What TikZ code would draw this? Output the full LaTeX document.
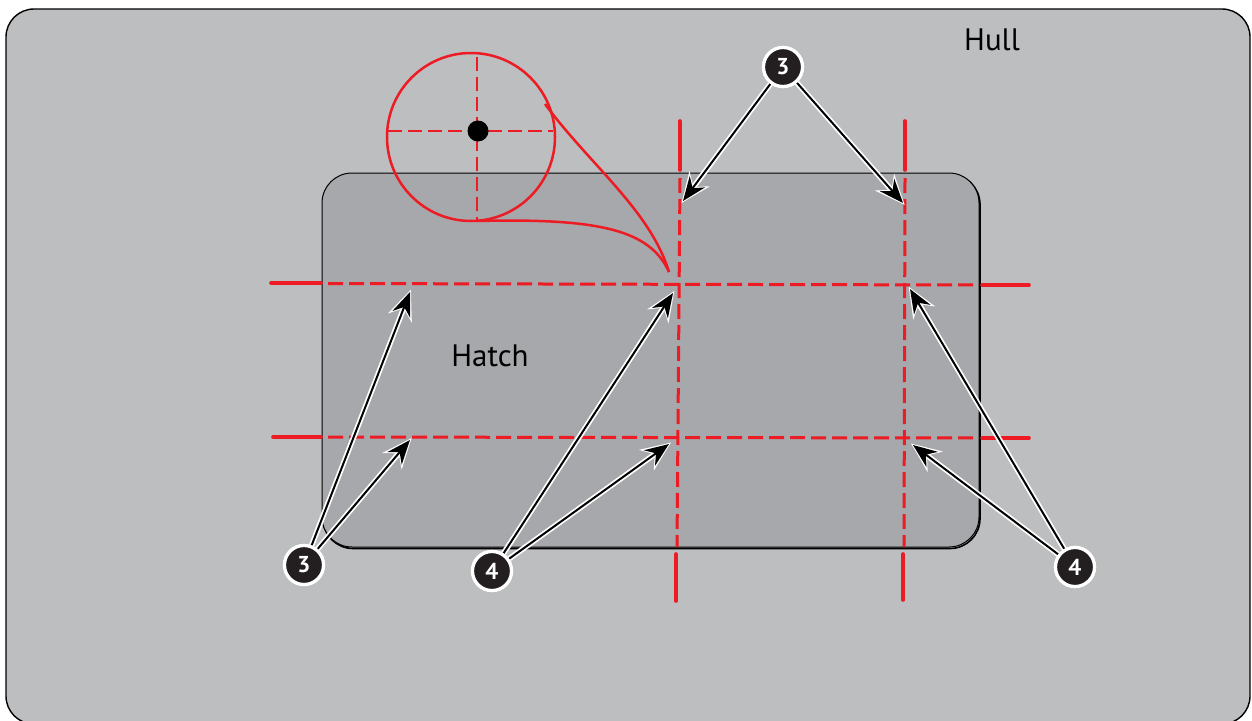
\documentclass[tikz,border=0pt]{standalone}
\usepackage{fontspec}
\setmainfont{PT Sans}
\usetikzlibrary{arrows.meta}
\definecolor{hullgray}{HTML}{BDBEC0}
\definecolor{hatchgray}{HTML}{A7A8AB}
\definecolor{hred}{HTML}{ED1C24}
\definecolor{badgeblack}{HTML}{231F20}
\tikzset{
  redsolid/.style={draw=hred, line width=3.6pt, line cap=round},
  reddash/.style={draw=hred, line width=3pt, dash pattern=on 15pt off 6pt},
  redthin/.style={draw=hred, line width=2.5pt},
  callout/.style={line width=2pt, draw=black,
    -{Stealth[length=24pt,width=19pt,inset=8pt]}},
  calloutbg/.style={line width=5.5pt, draw=white, shorten >=-2.5pt,
    -{Stealth[length=30pt,width=25pt,inset=10pt]}},
  badge/.style={circle, fill=badgeblack, draw=white, line width=3.2pt,
    minimum size=39pt, inner sep=0pt, text=white,
    font=\fontsize{23}{23}\selectfont\bfseries},
  lbl/.style={font=\fontsize{31}{31}\selectfont, text=black, inner sep=0pt}
}
\newcommand\callarrow[2]{\draw[calloutbg] (#1) -- (#2); \draw[callout] (#1) -- (#2);}
\begin{document}
\begin{tikzpicture}[x=1pt,y=-1pt]
\useasboundingbox (0,0) rectangle (1252,720);
% hull
\draw[line width=1.4pt, fill=hullgray, rounded corners=28pt] (6,9) rectangle (1250,724);
% hatch with slight shadow
\draw[line width=1.6pt, rounded corners=30pt] (323,174.5) rectangle (980,548.5);
\draw[line width=1pt, fill=hatchgray, rounded corners=30pt] (322,173) rectangle (979,547);
% red lines horizontal
\draw[redsolid] (271,283) -- (321,283);
\draw[reddash] (328,283.5) -- (978,285);
\draw[redsolid] (982,285) -- (1029,285);
\draw[redsolid] (273,437) -- (321,437);
\draw[reddash] (328,437) -- (978,438);
\draw[redsolid] (982,438) -- (1029,438);
% red lines vertical
\draw[redsolid] (680,121) -- (680,170);
\draw[reddash] (680,178) -- (677,547);
\draw[redsolid] (676,554) -- (676,601);
\draw[redsolid] (905,121) -- (905,170);
\draw[reddash] (905,178) -- (904,547);
\draw[redsolid] (903,554) -- (903,600);
% magnifier
\coordinate (mc) at (471,137);
\coordinate (tip) at (669,272);
\draw[redthin] (mc) circle[radius=84];
\draw[redthin] (545,104) .. controls (590,165) and (650,210) .. (tip);
\draw[redthin] (477,221) .. controls (600,218) and (650,230) .. (tip);
\draw[draw=hred, line width=2.6pt, dash pattern=on 14pt off 6pt] (388,131) -- (553,131);
\draw[draw=hred, line width=2.6pt, dash pattern=on 14pt off 6pt] (477,57) -- (477,221);
\fill[black] (478,131) circle[radius=10.5];
% badges (positions)
\node[badge] (t3) at (783,67) {3};
\node[badge] (l3) at (304,565) {3};
\node[badge] (m4) at (492,571) {4};
\node[badge] (r4) at (1075,567) {4};
% targets
\coordinate (a1) at (683,201);
\coordinate (a2) at (903,203);
\coordinate (a3) at (410,292);
\coordinate (a4) at (410,440);
\coordinate (a5) at (673,293);
\coordinate (a6) at (669,444);
\coordinate (a7) at (910,289);
\coordinate (a8) at (913,445);
\callarrow{t3}{a1}
\callarrow{t3}{a2}
\callarrow{l3}{a3}
\callarrow{l3}{a4}
\callarrow{m4}{a5}
\callarrow{m4}{a6}
\callarrow{r4}{a7}
\callarrow{r4}{a8}
% redraw badges on top
\node[badge] at (t3) {3};
\node[badge] at (l3) {3};
\node[badge] at (m4) {4};
\node[badge] at (r4) {4};
% labels
\node[lbl] (hull) at (992,40) {Hull};
\node[lbl] (hatch) at (490,356) {Hatch};
\end{tikzpicture}
\end{document}
